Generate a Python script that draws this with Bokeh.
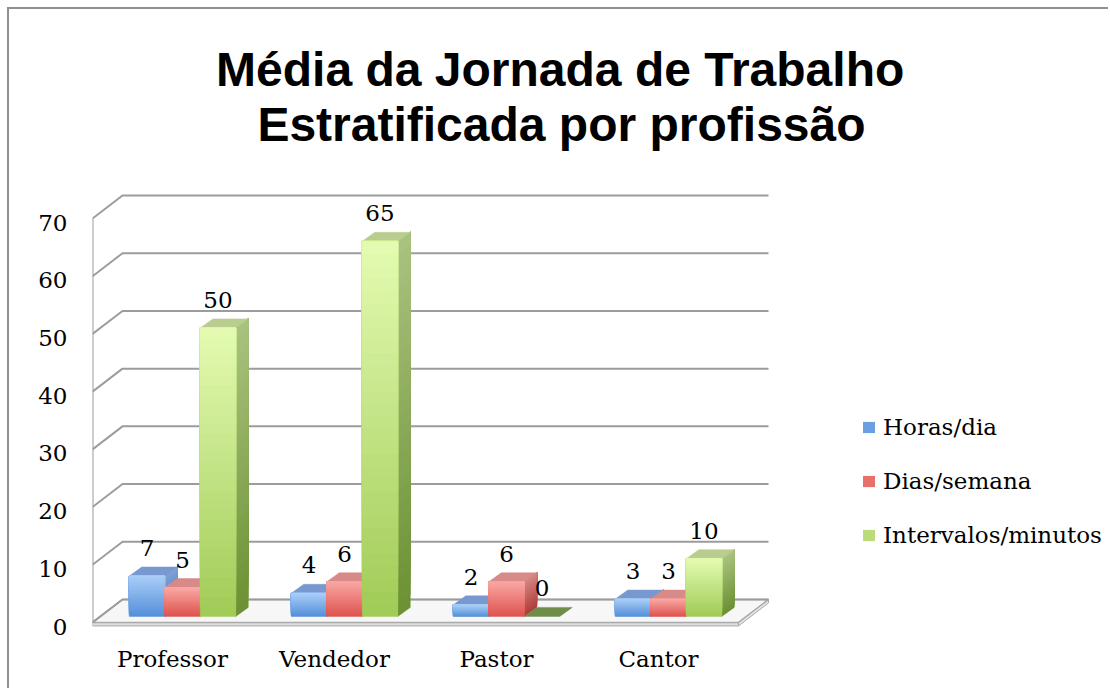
from bokeh.plotting import figure
from bokeh.models import FixedTicker, Title, Legend, LegendItem
from bokeh.core.properties import value
from bokeh.embed import file_html
from bokeh.resources import INLINE

# ---------------- data ----------------
categories = ["Professor", "Vendedor", "Pastor", "Cantor"]
series_names = ["Horas/dia", "Dias/semana", "Intervalos/minutos"]
horas_dia = [7, 4, 2, 3]
dias_semana = [5, 6, 6, 3]
intervalos_minutos = [50, 65, 0, 10]
y_ticks = [0, 10, 20, 30, 40, 50, 60, 70]
title_line1 = "Média da Jornada de Trabalho"
title_line2 = "Estratificada por profissão"

series_values = [horas_dia, dias_semana, intervalos_minutos]

# ---------------- styles ----------------
front_top = ["#aacdf7", "#f9a8a4", "#e4fbb2"]
front_bot = ["#5490da", "#de534e", "#a0cb56"]
side_top = ["#7fa1d6", "#d58582", "#a9c380"]
side_bot = ["#4a77ba", "#ad3d39", "#6c9033"]
top_col = ["#7799cf", "#d88a88", "#b8cd8f"]
legend_col = ["#6c9fe2", "#e86f6a", "#bcdc7c"]
zero_col = "#6f8d48"
grid_col = "#9c9c9c"
SERIF = "DejaVu Serif"
SANS = "Liberation Sans"
LABEL_SIZE = "23px"

# ---------------- layout geometry (page pixels) ----------------
OX, OY = 9, 9
PX_CAT = 162.0
X0_PX = 172.0
PX_UNIT = 5.77
Y0_PX = 626.0
FRAME_L, FRAME_R, FRAME_T, FRAME_B = 92, 1110, 150, 630
TITLE_OFFSETS = [215.6 - FRAME_L, 256.9 - FRAME_L]

x_start = (FRAME_L - X0_PX) / PX_CAT
x_end = (FRAME_R - X0_PX) / PX_CAT
y_start = (Y0_PX - FRAME_B) / PX_UNIT
y_end = (Y0_PX - FRAME_T) / PX_UNIT

BAR_W = 35.5 / PX_CAT
BAR_SHIFT = 10 / PX_CAT
BASE = 1.75
DX = 12.5 / PX_CAT
DY = 9 / PX_UNIT
WALL_L = x_start
WALL_R = (738 - X0_PX) / PX_CAT
WALL_DX = 30 / PX_CAT
WALL_DY = 23 / PX_UNIT
FRONT = 0.7
NB = 30


def mix(c1, c2, t):
    a = [int(c1[i:i + 2], 16) for i in (1, 3, 5)]
    b = [int(c2[i:i + 2], 16) for i in (1, 3, 5)]
    return "#%02x%02x%02x" % tuple(round(a[k] + (b[k] - a[k]) * t) for k in range(3))


p = figure(width=1110 - OX, height=690 - OY,
           x_range=(x_start, x_end), y_range=(y_start, y_end),
           output_backend="svg", toolbar_location=None,
           min_border_left=FRAME_L - OX, min_border_right=1110 - FRAME_R,
           min_border_top=FRAME_T - OY, min_border_bottom=690 - FRAME_B,
           margin=(OY - 2, 0, 0, OX - 2),
           styles={"border-top": "2px solid #8f8f8f", "border-left": "2px solid #8f8f8f"})
p.outline_line_color = None
p.xgrid.visible = False
p.ygrid.visible = False
p.background_fill_color = "white"
p.border_fill_color = "white"

# ---------------- titles ----------------
for txt, off in ((title_line2, TITLE_OFFSETS[1]), (title_line1, TITLE_OFFSETS[0])):
    p.add_layout(Title(text=txt, align="left", text_font=SANS, text_font_size="48px",
                       text_font_style="bold", text_color="black", standoff=0, offset=off), "above")

# ---------------- axes ----------------
p.yaxis.ticker = FixedTicker(ticks=y_ticks)
p.xaxis.ticker = FixedTicker(ticks=list(range(len(categories))))
p.xaxis.major_label_overrides = {i: c for i, c in enumerate(categories)}
for ax in (p.xaxis, p.yaxis):
    ax.axis_line_color = None
    ax.major_tick_line_color = None
    ax.minor_tick_line_color = None
    ax.major_tick_out = 0
    ax.major_tick_in = 0
    ax.major_label_text_font = SERIF
    ax.major_label_text_font_size = LABEL_SIZE
    ax.major_label_text_color = "black"
p.yaxis.major_label_standoff = 25
p.xaxis.major_label_standoff = 15

# ---------------- floor & walls ----------------
p.quad(left=[WALL_L], right=[WALL_R], bottom=[FRONT - 0.6], top=[FRONT],
       fill_color="#dedede", line_color="#a8a8a8", line_width=1)
p.patch([WALL_R, WALL_R + WALL_DX, WALL_R + WALL_DX, WALL_R],
        [FRONT - 0.6, FRONT - 0.6 + WALL_DY, FRONT + WALL_DY, FRONT],
        fill_color="#e6e6e6", line_color="#a8a8a8", line_width=1)
p.patch([WALL_L, WALL_R, WALL_R + WALL_DX, WALL_L + WALL_DX],
        [FRONT, FRONT, FRONT + WALL_DY, FRONT + WALL_DY],
        fill_color="#f7f7f7", line_color="#aaaaaa", line_width=1.5)

gx = [[WALL_L, WALL_L + WALL_DX, WALL_R + WALL_DX] for v in y_ticks]
gy = [[v + FRONT, v + FRONT + WALL_DY, v + FRONT + WALL_DY] for v in y_ticks]
p.multi_line(gx, gy, line_color=grid_col, line_width=2)
p.line([WALL_L, WALL_L], [FRONT, y_ticks[-1] + FRONT], line_color=grid_col, line_width=2)

# ---------------- bars ----------------
fr = dict(left=[], right=[], bottom=[], top=[], color=[])
sd = dict(xs=[], ys=[], color=[])
tp = dict(xs=[], ys=[], color=[])
lab = dict(x=[], y=[], text=[])
n = len(series_values)
for i in range(len(categories)):
    for j in range(n):
        v = series_values[j][i]
        xl = i - n / 2 * BAR_W + BAR_SHIFT + j * BAR_W
        xr = xl + BAR_W
        y0 = BASE
        y1 = BASE + v
        if v > 0:
            for k in range(NB):
                b = y0 + k * (y1 - y0) / NB
                t = (k + 0.5) / NB
                fr["left"].append(xl); fr["right"].append(xr)
                fr["bottom"].append(b); fr["top"].append(y1)
                fr["color"].append(mix(front_bot[j], front_top[j], t))
                sd["xs"].append([xr, xr + DX, xr + DX, xr])
                sd["ys"].append([b, b + DY, y1 + DY, y1])
                sd["color"].append(mix(side_bot[j], side_top[j], t))
        tp["xs"].append([xl, xr, xr + DX, xl + DX])
        tp["ys"].append([y1, y1, y1 + DY, y1 + DY])
        tp["color"].append(top_col[j] if v > 0 else zero_col)
        lab["x"].append((xl + xr) / 2)
        lab["y"].append(y1)
        lab["text"].append(str(v))

p.patches("xs", "ys", source=sd, fill_color="color", line_color="color", line_width=0.5)
p.patches("xs", "ys", source=tp, fill_color="color", line_color="color", line_width=0.5)
p.quad(left="left", right="right", bottom="bottom", top="top", source=fr,
       fill_color="color", line_color="color", line_width=0.5)

p.text(x="x", y="y", text="text", source=lab, text_font=value(SERIF), text_font_size=LABEL_SIZE,
       text_color="black", text_align="center", text_baseline="middle", y_offset=-28)

# ---------------- legend (swatch renderers sit outside the visible range) ----------------
items = []
for j, name in enumerate(series_names):
    r = p.quad(left=[x_start - 2], right=[x_start - 1], bottom=[0], top=[1],
               fill_color=legend_col[j], line_color=None)
    items.append(LegendItem(label=name, renderers=[r]))
ITEM_H = 27
SPACING = 27
leg_top = 427 - ITEM_H / 2
leg_bottom = leg_top + 3 * ITEM_H + 2 * SPACING
legend = Legend(items=items, location=(861 - FRAME_L, FRAME_B - leg_bottom),
                orientation="vertical", glyph_width=15, glyph_height=14, label_standoff=7,
                spacing=SPACING, padding=0, margin=0, label_height=ITEM_H,
                border_line_alpha=0, background_fill_alpha=0,
                label_text_font=SERIF, label_text_font_size=LABEL_SIZE, label_text_color="black")
p.add_layout(legend)

open("out.html", "w").write(file_html(p, INLINE))
